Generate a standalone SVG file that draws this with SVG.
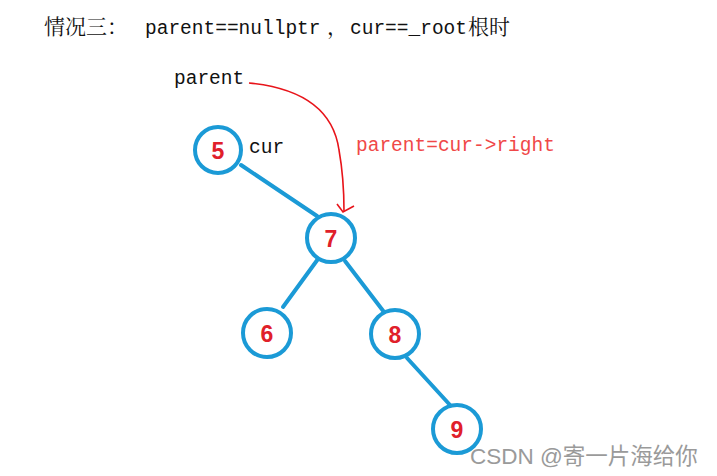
<svg xmlns="http://www.w3.org/2000/svg" width="717" height="476" viewBox="0 0 717 476">
<style>
.edge{stroke:#1b9ad6;stroke-width:4;fill:none;stroke-linecap:round}
.node circle{fill:#fff;stroke:#1b9ad6;stroke-width:4}
.node text{font-family:"Liberation Sans",Arial,sans-serif;font-weight:bold;font-size:23px;fill:#e0202a;text-anchor:middle}
.mono{font-family:"Liberation Mono","Courier New",monospace;font-size:19.5px}
.cjk{font-family:"Noto Serif CJK SC","Noto Sans CJK SC",serif;font-size:21px}
</style>
<rect width="717" height="476" fill="#fff"/>
<text id="title" y="34" fill="#111"><tspan class="cjk" x="44">情况三：</tspan><tspan class="mono" x="145">parent==nullptr</tspan><tspan class="cjk" x="327">，</tspan><tspan class="mono" x="350">cur==_root</tspan><tspan class="cjk" x="468">根时</tspan></text>
<g id="connectors">
<line class="edge" x1="241" y1="165" x2="317" y2="216"/>
<line class="edge" x1="318" y1="259" x2="283" y2="307"/>
<line class="edge" x1="345" y1="261" x2="384" y2="312"/>
<line class="edge" x1="407" y1="358" x2="450" y2="405"/>
<path d="M249,83 C300,88 333,108 339,150 C344,178 344,196 344,211" fill="none" stroke="#e8141a" stroke-width="1.6"/>
<path d="M337,204 L343,212 L354,206" fill="none" stroke="#e8141a" stroke-width="1.6"/>
</g>
<g id="n5" class="node"><circle cx="218" cy="150" r="23"/><text x="218" y="159">5</text></g>
<g id="n7" class="node"><circle cx="331" cy="238" r="24"/><text x="331" y="247">7</text></g>
<g id="n6" class="node"><circle cx="267" cy="333" r="24"/><text x="267" y="342">6</text></g>
<g id="n8" class="node"><circle cx="395" cy="334" r="24"/><text x="395" y="343">8</text></g>
<g id="n9" class="node"><circle cx="457" cy="429" r="24"/><text x="457" y="438">9</text></g>
<text class="mono" x="174" y="84" fill="#111">parent</text>
<text class="mono" x="249" y="153" fill="#111">cur</text>
<text class="mono" x="356" y="151" fill="#f04848">parent=cur-&gt;right</text>
<text x="470" y="464" font-family="'Liberation Sans','Noto Sans CJK SC',sans-serif" font-size="22.5" fill="#9a9a9a">CSDN @寄一片海给你</text>
</svg>
